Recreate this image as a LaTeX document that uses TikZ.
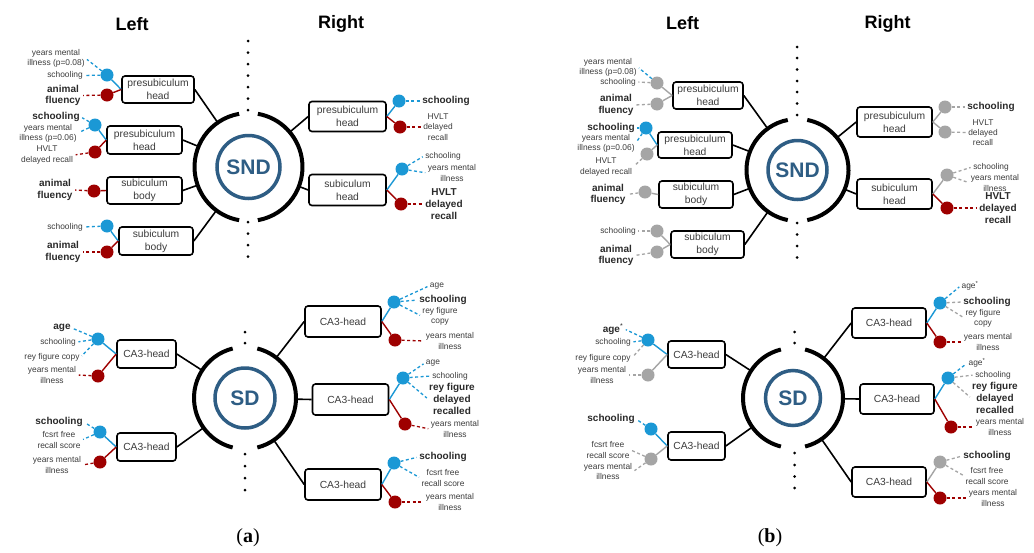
\documentclass[tikz,border=0pt]{standalone}
\usepackage{fontspec}
\setmainfont{Liberation Sans}
\newfontfamily\capfont{Liberation Serif}
\usetikzlibrary{calc}
\definecolor{dblue}{HTML}{1B98D5}
\definecolor{dred}{HTML}{9E0000}
\definecolor{dgray}{HTML}{A5A5A5}
\definecolor{ringc}{HTML}{2E5D84}
\definecolor{txt}{HTML}{3C3C3C}
\definecolor{txtb}{HTML}{2A2A2A}
\newcommand\mySmall{\fontsize{8.4}{10.3}\selectfont}
\newcommand\myBold{\fontsize{10}{11.7}\selectfont\bfseries}
\newcommand\myBox{\fontsize{10.3}{13}\selectfont}
\newcommand\myHub{\fontsize{21}{21}\selectfont\bfseries}
\newcommand\hubarcs[3]{%
  \draw[arcst] (#1.center) ++(-#3:#2) arc[start angle=-#3,end angle=#3,radius=#2];
  \draw[arcst] (#1.center) ++(180-#3:#2) arc[start angle=180-#3,end angle=180+#3,radius=#2];}
\tikzset{
  box/.style={draw=black, line width=1.6pt, rounded corners=3pt, align=center, font=\myBox, text=txt, inner sep=1pt},
  bx/.style 2 args={box, minimum width=#1pt, minimum height=#2pt},
  lab/.style={align=center, font=\mySmall, text=txt, inner sep=1pt},
  blab/.style={align=center, font=\myBold, text=txtb, inner sep=1pt},
  titletext/.style={font=\fontsize{18}{18}\selectfont\bfseries, text=black},
  captext/.style={font=\capfont\fontsize{20}{20}\selectfont, text=black},
  dotb/.style={circle, fill=dblue, minimum size=13pt, inner sep=0pt},
  dotr/.style={circle, fill=dred, minimum size=13pt, inner sep=0pt},
  dotg/.style={circle, fill=dgray, minimum size=13pt, inner sep=0pt},
  lb/.style={draw=dblue, line width=1.4pt},
  lr/.style={draw=dred, line width=1.4pt},
  lg/.style={draw=dgray, line width=1.4pt},
  db/.style={draw=dblue, line width=1.3pt, dash pattern=on 3pt off 2.5pt, shorten >=1.5pt},
  dr/.style={draw=dred, line width=1.3pt, dash pattern=on 3pt off 2.5pt, shorten >=1.5pt},
  dg/.style={draw=dgray, line width=1.3pt, dash pattern=on 3pt off 2.5pt, shorten >=1.5pt},
  hub/.style={circle, minimum size=#1, inner sep=0pt, outer sep=0pt},
  ring/.style={circle, draw=ringc, line width=3.5pt, text=ringc, font=\myHub, inner sep=0pt},
  arcst/.style={draw=black, line width=4pt},
  link/.style={draw=black, line width=1.6pt},
  sepdot/.style={fill=black}
}
\begin{document}
\begin{tikzpicture}[x=1pt,y=-1pt]
\useasboundingbox[fill=white] (0,0) rectangle (1034,552);

% titles and captions
\node[titletext] (tLa) at (132,24) {Left};
\node[titletext] (tRa) at (341,24) {Right};
\node[titletext] (tLb) at (682.5,23.5) {Left};
\node[titletext] (tRb) at (887.5,23.5) {Right};
\node[captext] (capa) at (248,538) {(\textbf{a})};
\node[captext] (capb) at (770,538) {(\textbf{b})};

% dotted separators
\foreach \yy in {41,52.5,64,75.5,87,98.5,110,222,233.5,245,256.5} \fill[sepdot] (248,\yy) circle (1.5pt);
\foreach \yy in {332,343,454,466,478,490} \fill[sepdot] (245,\yy) circle (1.5pt);
\foreach \yy in {47,58,69.5,81,92,103.5,115,223,234.5,246,257.5} \fill[sepdot] (797,\yy) circle (1.5pt);
\foreach \yy in {332,343,453,465,476.5,488} \fill[sepdot] (794.5,\yy) circle (1.5pt);

%==================== Panel (a) SND
\node[hub=108pt] (hA) at (248.5,167) {};
\node[ring, minimum size=63pt] (rA) at (248.5,167) {SND};
\hubarcs{hA}{54pt}{80}
\node[bx={72}{27}] (a1) at (158,89.5) {presubiculum\\head};
\node[bx={75}{28}] (a2) at (144.5,140) {presubiculum\\head};
\node[bx={75}{27}] (a3) at (144.5,190.5) {subiculum\\body};
\node[bx={74}{28}] (a4) at (156,241) {subiculum\\body};
\node[bx={77}{30}] (a5) at (347.5,116.5) {presubiculum\\head};
\node[bx={77}{31}] (a6) at (347.5,190) {subiculum\\head};
\foreach \b in {a1,a2,a3,a4} \draw[link] (\b.east) -- (hA);
\foreach \b in {a5,a6} \draw[link] (\b.west) -- (hA);

\node[dotb] (a1b) at (107,75) {};
\node[dotr] (a1r) at (107,95) {};
\node[dotb] (a2b) at (95,125) {};
\node[dotr] (a2r) at (95,152) {};
\node[dotr] (a3r) at (94,191) {};
\node[dotb] (a4b) at (107,226) {};
\node[dotr] (a4r) at (107,252) {};
\node[dotb] (a5b) at (399,101) {};
\node[dotr] (a5r) at (400,127) {};
\node[dotb] (a6b) at (402,169) {};
\node[dotr] (a6r) at (401,204) {};
\draw[lb] (a1b) -- (a1.west); \draw[lr] (a1r) -- (a1.west);
\draw[lb] (a2b) -- (a2.west); \draw[lr] (a2r) -- (a2.west);
\draw[lr] (a3r) -- (a3.west);
\draw[lb] (a4b) -- (a4.west); \draw[lr] (a4r) -- (a4.west);
\draw[lb] (a5b) -- (a5.east); \draw[lr] (a5r) -- (a5.east);
\draw[lb] (a6b) -- (a6.east); \draw[lr] (a6r) -- (a6.east);

\node[lab] (a1y) at (56,58.5) {years mental\\illness (p=0.08)};
\node[lab] (a1s) at (65,75.5) {schooling};
\node[blab] (a1f) at (63,95.5) {animal\\fluency};
\draw[db] (a1b) -- (a1y.east); \draw[db] (a1b) -- (a1s.east); \draw[dr] (a1r) -- (a1f.east);
\node[blab] (a2s) at (56,117) {schooling};
\node[lab] (a2y) at (48,133) {years mental\\illness (p=0.06)};
\node[lab] (a2h) at (47,155) {HVLT\\delayed recall};
\draw[db] (a2b) -- (a2s.east); \draw[db] (a2b) -- (a2y.east); \draw[dr] (a2r) -- (a2h.east);
\node[blab] (a3f) at (55,190) {animal\\fluency};
\draw[dr] (a3r) -- (a3f.east);
\node[lab] (a4s) at (65,227) {schooling};
\node[blab] (a4f) at (63,252) {animal\\fluency};
\draw[db] (a4b) -- (a4s.east); \draw[dr] (a4r) -- (a4f.east);
\node[blab] (a5s) at (446,101) {schooling};
\node[lab] (a5h) at (438,127) {HVLT\\delayed\\recall};
\draw[db] (a5b) -- (a5s.west); \draw[dr] (a5r) -- (a5h.west);
\node[lab] (a6s) at (443,156) {schooling};
\node[lab] (a6y) at (452,173) {years mental\\illness};
\node[blab] (a6h) at (444,204) {HVLT\\delayed\\recall};
\draw[db] (a6b) -- (a6s.west); \draw[db] (a6b) -- (a6y.west); \draw[dr] (a6r) -- (a6h.west);

%==================== Panel (a) SD
\node[hub=102pt] (hS) at (245,398) {};
\node[ring, minimum size=60pt] (rS) at (245,398) {SD};
\hubarcs{hS}{51pt}{76}
\node[bx={59}{28}] (s1) at (146.5,354) {CA3-head};
\node[bx={59}{28}] (s2) at (146.5,447) {CA3-head};
\node[bx={76}{31}] (s3) at (343,321.5) {CA3-head};
\node[bx={76}{31}] (s4) at (350.5,399.5) {CA3-head};
\node[bx={76}{31}] (s5) at (343,484.5) {CA3-head};
\foreach \b in {s1,s2} \draw[link] (\b.east) -- (hS);
\foreach \b in {s3,s4,s5} \draw[link] (\b.west) -- (hS);

\node[dotb] (s1b) at (98,339) {};
\node[dotr] (s1r) at (98,376) {};
\node[dotb] (s2b) at (100,432) {};
\node[dotr] (s2r) at (100,462) {};
\node[dotb] (s3b) at (394,302) {};
\node[dotr] (s3r) at (395,340) {};
\node[dotb] (s4b) at (403,378) {};
\node[dotr] (s4r) at (405,424) {};
\node[dotb] (s5b) at (394,463) {};
\node[dotr] (s5r) at (395,502) {};
\draw[lb] (s1b) -- (s1.west); \draw[lr] (s1r) -- (s1.west);
\draw[lb] (s2b) -- (s2.west); \draw[lr] (s2r) -- (s2.west);
\draw[lb] (s3b) -- (s3.east); \draw[lr] (s3r) -- (s3.east);
\draw[lb] (s4b) -- (s4.east); \draw[lr] (s4r) -- (s4.east);
\draw[lb] (s5b) -- (s5.east); \draw[lr] (s5r) -- (s5.east);

\node[blab] (s1a) at (62,328) {age};
\node[lab] (s1s) at (58,342) {schooling};
\node[lab] (s1c) at (52,357) {rey figure copy};
\node[lab] (s1y) at (52,375) {years mental\\illness};
\draw[db] (s1b) -- (s1a.east); \draw[db] (s1b) -- (s1s.east); \draw[db] (s1b) -- (s1c.east); \draw[dr] (s1r) -- (s1y.east);
\node[blab] (s2s) at (59,422) {schooling};
\node[lab] (s2f) at (59,440) {fcsrt free\\recall score};
\node[lab] (s2y) at (57,465) {years mental\\illness};
\draw[db] (s2b) -- (s2s.east); \draw[db] (s2b) -- (s2f.east); \draw[dr] (s2r) -- (s2y.east);
\node[lab] (s3a) at (437,286) {age};
\node[blab] (s3s) at (443,300) {schooling};
\node[lab] (s3c) at (440,316) {rey figure\\copy};
\node[lab] (s3y) at (450,341) {years mental\\illness};
\draw[db] (s3b) -- (s3a.west); \draw[db] (s3b) -- (s3s.west); \draw[db] (s3b) -- (s3c.west); \draw[dr] (s3r) -- (s3y.west);
\node[lab] (s4a) at (433,363) {age};
\node[lab] (s4s) at (450,376) {schooling};
\node[blab] (s4c) at (452,399) {rey figure\\delayed\\recalled};
\node[lab] (s4y) at (455,429) {years mental\\illness};
\draw[db] (s4b) -- (s4a.west); \draw[db] (s4b) -- (s4s.west); \draw[db] (s4b) -- (s4c.west); \draw[dr] (s4r) -- (s4y.west);
\node[blab] (s5s) at (443,457) {schooling};
\node[lab] (s5f) at (443,478) {fcsrt free\\recall score};
\node[lab] (s5y) at (450,502) {years mental\\illness};
\draw[db] (s5b) -- (s5s.west); \draw[db] (s5b) -- (s5f.west); \draw[dr] (s5r) -- (s5y.west);

%==================== Panel (b) SND
\node[hub=102pt] (hB) at (797.5,170) {};
\node[ring, minimum size=59pt] (rB) at (797.5,170) {SND};
\hubarcs{hB}{51pt}{79}
\node[bx={70}{27}] (b1) at (708,95.5) {presubiculum\\head};
\node[bx={74}{26}] (b2) at (695,145) {presubiculum\\head};
\node[bx={74}{27}] (b3) at (696,194.5) {subiculum\\body};
\node[bx={73}{27}] (b4) at (707.5,244.5) {subiculum\\body};
\node[bx={75}{30}] (b5) at (894.5,122) {presubiculum\\head};
\node[bx={75}{30}] (b6) at (894.5,194) {subiculum\\head};
\foreach \b in {b1,b2,b3,b4} \draw[link] (\b.east) -- (hB);
\foreach \b in {b5,b6} \draw[link] (\b.west) -- (hB);

\node[dotg] (b1g) at (657,83) {};
\node[dotg] (b1h) at (657,104) {};
\node[dotb] (b2b) at (646,128) {};
\node[dotg] (b2g) at (647,154) {};
\node[dotg] (b3g) at (645,192) {};
\node[dotg] (b4g) at (657,231) {};
\node[dotg] (b4h) at (657,252) {};
\node[dotg] (b5g) at (945,107) {};
\node[dotg] (b5h) at (945,132) {};
\node[dotg] (b6g) at (947,175) {};
\node[dotr] (b6r) at (947,208) {};
\draw[lg] (b1g) -- (b1.west); \draw[lg] (b1h) -- (b1.west);
\draw[lb] (b2b) -- (b2.west); \draw[lg] (b2g) -- (b2.west);
\draw[lg] (b3g) -- (b3.west);
\draw[lg] (b4g) -- (b4.west); \draw[lg] (b4h) -- (b4.west);
\draw[lg] (b5g) -- (b5.east); \draw[lg] (b5h) -- (b5.east);
\draw[lg] (b6g) -- (b6.east); \draw[lr] (b6r) -- (b6.east);

\node[lab] (b1y) at (608,67) {years mental\\illness (p=0.08)};
\node[lab] (b1s) at (618,82) {schooling};
\node[blab] (b1f) at (616,105) {animal\\fluency};
\draw[db] (b1g) -- (b1y.east); \draw[dg] (b1g) -- (b1s.east); \draw[dg] (b1h) -- (b1f.east);
\node[blab] (b2s) at (611,128) {schooling};
\node[lab] (b2y) at (606,143) {years mental\\illness (p=0.06)};
\node[lab] (b2h) at (606,167) {HVLT\\delayed recall};
\draw[db] (b2b) -- (b2s.east); \draw[db] (b2b) -- (b2y.east); \draw[dg] (b2g) -- (b2h.east);
\node[blab] (b3f) at (608,194.5) {animal\\fluency};
\draw[dg] (b3g) -- (b3f.east);
\node[lab] (b4s) at (618,231) {schooling};
\node[blab] (b4f) at (616,255.5) {animal\\fluency};
\draw[dg] (b4g) -- (b4s.east); \draw[dg] (b4h) -- (b4f.east);
\node[blab] (b5s) at (991,107) {schooling};
\node[lab] (b5h2) at (983,132.5) {HVLT\\delayed\\recall};
\draw[dg] (b5g) -- (b5s.west); \draw[dg] (b5h) -- (b5h2.west);
\node[lab] (b6s) at (991,167) {schooling};
\node[lab] (b6y) at (995,183) {years mental\\illness};
\node[blab] (b6h) at (998,208) {HVLT\\delayed\\recall};
\draw[dg] (b6g) -- (b6s.west); \draw[dg] (b6g) -- (b6y.west); \draw[dr] (b6r) -- (b6h.west);

%==================== Panel (b) SD
\node[hub=100pt] (hT) at (793,398) {};
\node[ring, minimum size=55pt] (rT) at (793,398) {SD};
\hubarcs{hT}{50pt}{76}
\node[bx={57}{27}] (t1) at (696.5,354.5) {CA3-head};
\node[bx={57}{28}] (t2) at (696.5,446) {CA3-head};
\node[bx={74}{30}] (t3) at (889,323) {CA3-head};
\node[bx={74}{30}] (t4) at (897,399) {CA3-head};
\node[bx={74}{30}] (t5) at (889,482) {CA3-head};
\foreach \b in {t1,t2} \draw[link] (\b.east) -- (hT);
\foreach \b in {t3,t4,t5} \draw[link] (\b.west) -- (hT);

\node[dotb] (t1b) at (648,340) {};
\node[dotg] (t1g) at (648,375) {};
\node[dotb] (t2b) at (651,429) {};
\node[dotg] (t2g) at (651,459) {};
\node[dotb] (t3b) at (940,303) {};
\node[dotr] (t3r) at (940,342) {};
\node[dotb] (t4b) at (948,378) {};
\node[dotr] (t4r) at (951,427) {};
\node[dotg] (t5g) at (940,462) {};
\node[dotr] (t5r) at (940,498) {};
\draw[lb] (t1b) -- (t1.west); \draw[lg] (t1g) -- (t1.west);
\draw[lb] (t2b) -- (t2.west); \draw[lg] (t2g) -- (t2.west);
\draw[lb] (t3b) -- (t3.east); \draw[lr] (t3r) -- (t3.east);
\draw[lb] (t4b) -- (t4.east); \draw[lr] (t4r) -- (t4.east);
\draw[lg] (t5g) -- (t5.east); \draw[lr] (t5r) -- (t5.east);

\node[blab] (t1a) at (613,329) {age\textsuperscript{\mdseries *}};
\node[lab] (t1s) at (613,342) {schooling};
\node[lab] (t1c) at (603,358) {rey figure copy};
\node[lab] (t1y) at (602,375) {years mental\\illness};
\draw[db] (t1b) -- (t1a.east); \draw[db] (t1b) -- (t1s.east); \draw[dg] (t1b) -- (t1c.east); \draw[dg] (t1g) -- (t1y.east);
\node[blab] (t2s) at (611,419) {schooling};
\node[lab] (t2f) at (608,450) {fcsrt free\\recall score};
\node[lab] (t2y) at (608,471.5) {years mental\\illness};
\draw[db] (t2b) -- (t2s.east); \draw[dg] (t2g) -- (t2f.east); \draw[dg] (t2g) -- (t2y.east);
\node[lab] (t3a) at (970,286) {age\textsuperscript{*}};
\node[blab] (t3s) at (987,302) {schooling};
\node[lab] (t3c) at (983,318) {rey figure\\copy};
\node[lab] (t3y) at (988,342) {years mental\\illness};
\draw[db] (t3b) -- (t3a.west); \draw[dg] (t3b) -- (t3s.west); \draw[dg] (t3b) -- (t3c.west); \draw[dr] (t3r) -- (t3y.west);
\node[lab] (t4a) at (977,363) {age\textsuperscript{*}};
\node[lab] (t4s) at (993,375) {schooling};
\node[blab] (t4c) at (995,398) {rey figure\\delayed\\recalled};
\node[lab] (t4y) at (1000,427) {years mental\\illness};
\draw[db] (t4b) -- (t4a.west); \draw[dg] (t4b) -- (t4s.west); \draw[dg] (t4b) -- (t4c.west); \draw[dr] (t4r) -- (t4y.west);
\node[blab] (t5s) at (987,456) {schooling};
\node[lab] (t5f) at (987,476) {fcsrt free\\recall score};
\node[lab] (t5y) at (993,498) {years mental\\illness};
\draw[dg] (t5g) -- (t5s.west); \draw[dg] (t5g) -- (t5f.west); \draw[dr] (t5r) -- (t5y.west);
\end{tikzpicture}
\end{document}
